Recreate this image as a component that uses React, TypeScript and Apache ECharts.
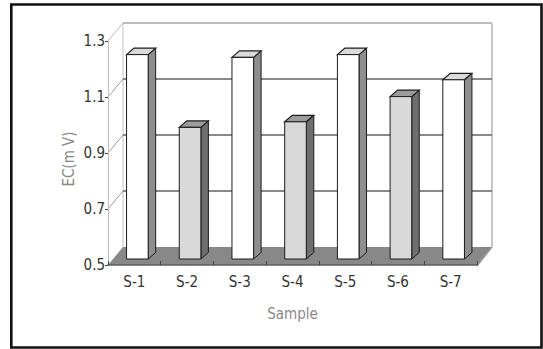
import React, { useEffect, useRef } from "react";
import * as echarts from "echarts";

// Sample labels and measured EC (mV)
const categories = ["S-1", "S-2", "S-3", "S-4", "S-5", "S-6", "S-7"];
const ecValues = [1.23, 0.97, 1.22, 0.99, 1.23, 1.08, 1.14];
const yTicks = [0.5, 0.7, 0.9, 1.1, 1.3];
const gridValues = [0.7, 0.9, 1.1];
const Y_MIN = 0.5;
const Y_MAX = 1.3;

// oblique 3D projection offsets in pixels
const WALL_DEPTH = { dx: 15, dy: -18 };
const BAR_PLANE = { dx: 3, dy: -6 };
const BAR_DEPTH = { dx: 7.5, dy: -6.5 };
const BAR_RATIO = 0.41;

const SHADES = [
  { front: "#ffffff", side: "#8e8e8e", top: "#dadada" },
  { front: "#d9d9d9", side: "#6e6e6e", top: "#9c9c9c" },
];

const FONT = "'Liberation Sans Narrow', 'DejaVu Sans Condensed', 'Liberation Sans', sans-serif";

function line(x1: number, y1: number, x2: number, y2: number, stroke: string, lineWidth: number) {
  return { type: "line", shape: { x1, y1, x2, y2 }, style: { stroke, lineWidth }, silent: true };
}

function poly(points: number[][], fill: string, stroke?: string, lineWidth = 1) {
  return {
    type: "polygon",
    shape: { points },
    style: { fill, stroke: stroke || "none", lineWidth, lineJoin: "miter" },
  };
}

export default function App() {
  const ref = useRef<HTMLDivElement>(null);

  useEffect(() => {
    document.body.style.margin = "0";
    if (!ref.current) return;
    const chart = echarts.init(ref.current, null, { renderer: "svg" });

    const sceneRender = (params: any, api: any) => {
      const cs = params.coordSys;
      const L = cs.x;
      const R = cs.x + cs.width;
      const yTop = api.coord([0, Y_MAX])[1];
      const yBot = api.coord([0, Y_MIN])[1];
      const { dx, dy } = WALL_DEPTH;
      const children: any[] = [];
      // side wall and back wall
      children.push(poly([[L, yTop], [L + dx, yTop + dy], [L + dx, yBot + dy], [L, yBot]], "#ffffff"));
      children.push(poly([[L + dx, yTop + dy], [R + dx, yTop + dy], [R + dx, yBot + dy], [L + dx, yBot + dy]], "#ffffff"));
      children.push(line(L + dx, yTop + dy, R + dx, yTop + dy, "#a4a4a4", 1.5));
      children.push(line(R + dx, yTop + dy, R + dx, yBot + dy, "#c8c8c8", 2.2));
      children.push(line(L + dx, yTop + dy, L + dx, yBot + dy, "#c4c4c4", 1));
      children.push(line(L, yTop, L + dx, yTop + dy, "#b8b8b8", 1));
      gridValues.forEach((v) => {
        const y = api.coord([0, v])[1];
        children.push(line(L, y, L + dx, y + dy, "#a0a0a0", 1));
        children.push(line(L + dx, y + dy, R + dx, y + dy, "#626262", 1.6));
      });
      // floor
      children.push(poly([[L, yBot], [R, yBot], [R + dx, yBot + dy], [L + dx, yBot + dy]], "#888888"));
      children.push(line(R, yBot + 1, R + dx, yBot + dy, "#9a9a9a", 1.5));
      return { type: "group", children };
    };

    const barRender = (params: any, api: any) => {
      const i = api.value(0);
      const v = api.value(1);
      const top = api.coord([i, v]);
      const base = api.coord([i, Y_MIN]);
      const bw = api.size([1, 0])[0] * BAR_RATIO;
      const x0 = top[0] - bw / 2 + BAR_PLANE.dx;
      const x1 = x0 + bw;
      const yt = top[1] + BAR_PLANE.dy;
      const yb = base[1] + BAR_PLANE.dy;
      const { dx, dy } = BAR_DEPTH;
      const shade = SHADES[params.dataIndex % 2];
      const edge = "#1c1c1c";
      return {
        type: "group",
        children: [
          poly([[x1, yt], [x1 + dx, yt + dy], [x1 + dx, yb + dy], [x1, yb]], shade.side, edge, 1),
          poly([[x0, yt], [x0 + dx, yt + dy], [x1 + dx, yt + dy], [x1, yt]], shade.top, edge, 1.2),
          poly([[x0, yt], [x1, yt], [x1, yb], [x0, yb]], shade.front, edge, 1),
        ],
      };
    };

    chart.setOption({
      animation: false,
      backgroundColor: "#ffffff",
      grid: { left: 108, top: 41, width: 369, height: 224, containLabel: false },
      xAxis: {
        type: "category",
        data: categories,
        z: 5,
        axisLine: { show: true, lineStyle: { color: "#5c5c5c", width: 1.5 } },
        axisTick: { show: true, inside: true, length: 4, lineStyle: { color: "#444", width: 1 } },
        axisLabel: { margin: 9, color: "#333", fontFamily: FONT, fontSize: 15 },
        splitLine: { show: false },
        name: "Sample",
        nameLocation: "middle",
        nameGap: 41,
        nameTextStyle: { color: "#8a8a8a", fontFamily: FONT, fontSize: 15 },
      },
      yAxis: {
        type: "value",
        min: Y_MIN,
        max: Y_MAX,
        z: 5,
        axisLine: { show: true, lineStyle: { color: "#c0c0c0", width: 1 } },
        axisTick: { show: true, length: 3, customValues: yTicks, lineStyle: { color: "#444" } },
        axisLabel: {
          customValues: yTicks,
          margin: 3,
          color: "#333",
          fontFamily: FONT,
          fontSize: 15,
          padding: [6, 0, 0, 0],
          formatter: (v: number) => v.toFixed(1),
        },
        splitLine: { show: false },
      },
      graphic: [
        {
          type: "text",
          x: 69,
          y: 159,
          rotation: Math.PI / 2,
          style: {
            text: "EC(m V)",
            fill: "#8a8a8a",
            font: `15px ${FONT}`,
            align: "center",
            verticalAlign: "middle",
          },
        },
        {
          type: "rect",
          shape: { x: 11.3, y: 4.5, width: 530.2, height: 343 },
          style: { fill: "none", stroke: "#111", lineWidth: 2.6 },
          z: 100,
        },
      ],
      series: [
        {
          type: "custom",
          name: "walls",
          data: [[0, Y_MIN]],
          renderItem: sceneRender,
          z: 1,
          silent: true,
        },
        {
          type: "custom",
          name: "EC",
          data: ecValues.map((v, i) => [i, v]),
          renderItem: barRender,
          z: 3,
        },
      ],
    });

    return () => chart.dispose();
  }, []);

  return <div ref={ref} style={{ width: 543, height: 349 }} />;
}
